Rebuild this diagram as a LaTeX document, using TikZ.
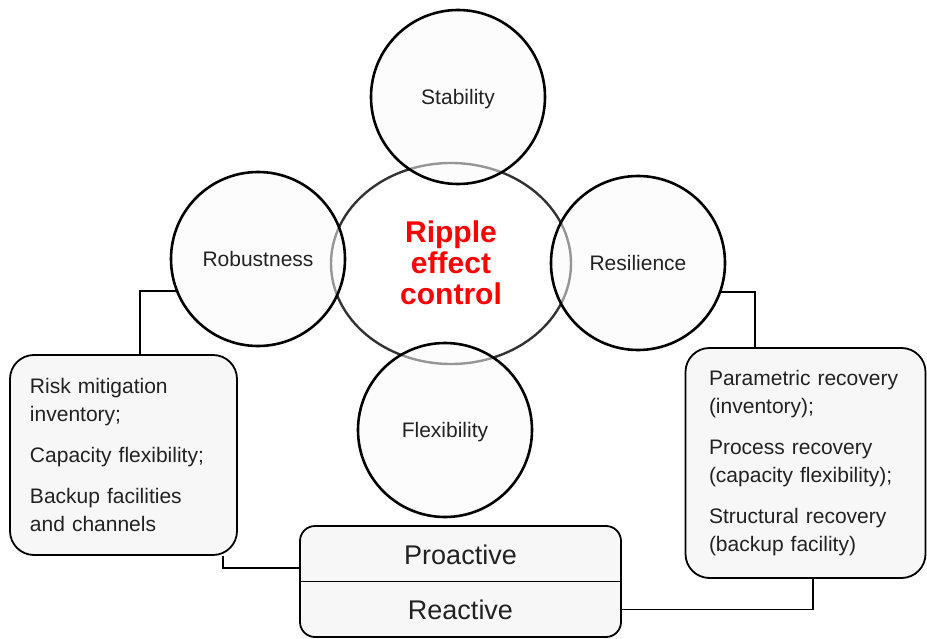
\documentclass[tikz,border=0pt]{standalone}
\usepackage{fontspec}
\setmainfont{Liberation Sans}
\usetikzlibrary{calc,shapes.geometric}
\definecolor{boxfill}{HTML}{F7F7F7}
\definecolor{circfill}{HTML}{FAFAFA}
\definecolor{txt}{HTML}{222222}
\definecolor{ripred}{HTML}{FF0000}
\tikzset{
  pillar/.style={circle, draw=black, line width=2.6pt, fill=circfill, fill opacity=0.5, text opacity=1,
    minimum size=174pt, inner sep=0pt, text=txt, font=\fontsize{21}{25}\selectfont, text height=15pt, text depth=0pt},
  infobox/.style={draw=black, line width=1.8pt, fill=boxfill, rounded corners=24pt, align=left, text=txt,
    font=\fontsize{21}{28}\selectfont},
  link/.style={draw=black, line width=1.8pt},
}
\begin{document}
\begin{tikzpicture}[x=1pt,y=-1pt]
\useasboundingbox (0,0) rectangle (927,639);
% central ellipse
\node[ellipse, draw=black!80, line width=2.4pt, minimum width=240pt, minimum height=201pt, inner sep=0pt] (core) at (451,263.5) {};
\node[text=ripred, font=\bfseries\fontsize{30}{31}\selectfont, align=center] (title) at (451,263) {Ripple\\effect\\control};
% pillars
\node[pillar] (stab) at (458,97) {Stability};
\node[pillar] (rob) at (258,259) {Robustness};
\node[pillar] (res) at (638,263) {Resilience};
\node[pillar] (flex) at (445,430) {Flexibility};
% side boxes
\node[infobox, text width=187pt, inner xsep=20pt, inner ysep=0pt, minimum height=200pt] (lbox) at (123.5,455)
  {Risk mitigation\\inventory;\\[13pt]Capacity flexibility;\\[13pt]Backup facilities\\and channels};
\node[infobox, text width=193pt, inner xsep=23.5pt, inner ysep=0pt, minimum height=230pt] (rbox) at (805.5,463)
  {Parametric recovery\\(inventory);\\[13pt]Process recovery\\(capacity flexibility);\\[13pt]Structural recovery\\(backup facility)};
% bottom box
\node[draw=black, line width=1.8pt, fill=boxfill, rounded corners=15pt, minimum width=321pt, minimum height=111pt, inner sep=0pt] (bb) at (460.5,581.5) {};
\draw[line width=1.8pt] (bb.west) -- (bb.east);
\node[minimum width=321pt, minimum height=55pt, inner sep=0pt, text=txt, font=\fontsize{27}{30}\selectfont, text height=19pt, text depth=0pt] (pro) at (460.5,555) {Proactive};
\node[minimum width=321pt, minimum height=55pt, inner sep=0pt, text=txt, font=\fontsize{27}{30}\selectfont, text height=19pt, text depth=0pt] (rea) at (460.5,609.5) {Reactive};
% connectors
\draw[link] (rob.201.6) -| ($(lbox.north)+(16.5,0)$);
\draw[link] (res.341.2) -| ($(rbox.north)+(-50.5,0)$);
\draw[link] ($(lbox.south)+(99.5,0)$) |- ($(pro.west)+(0,13)$);
\draw[link] (rea.east) -| ($(rbox.south)+(7.5,0)$);
\end{tikzpicture}
\end{document}
